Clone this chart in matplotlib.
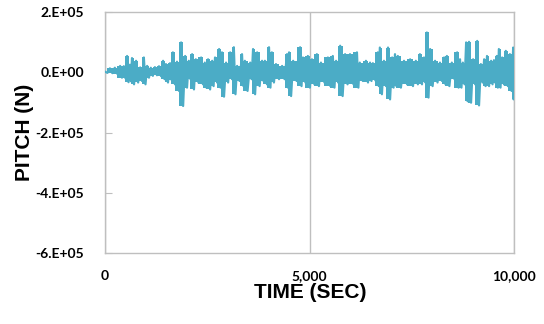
import numpy as np
import matplotlib
matplotlib.use("Agg")
import matplotlib.pyplot as plt

# Oscillation envelope of the pitch force record: time (s), upper peak and lower peak (N)
time_s = [0, 120, 240, 370, 460, 540, 610, 660, 760, 860, 950, 1030, 1120, 1220, 1320,
          1420, 1490, 1590, 1660, 1760, 1860, 1960, 2050, 2130, 2220, 2350, 2440, 2520,
          2620, 2690, 2790, 2860, 2960, 3060, 3150, 3230, 3350, 3420, 3550, 3620, 3720,
          3840, 3910, 4010, 4080, 4180, 4330, 4450, 4500, 4600, 4770, 4840, 4960, 5060,
          5180, 5280, 5450, 5570, 5650, 5750, 5870, 5990, 6160, 6230, 6380, 6480, 6550,
          6670, 6720, 6820, 6920, 7020, 7090, 7160, 7310, 7460, 7600, 7700, 7800, 7870,
          7950, 8070, 8190, 8290, 8360, 8480, 8610, 8680, 8750, 8830, 8900, 9000, 9100,
          9190, 9270, 9340, 9440, 9510, 9580, 9630, 9710, 9800, 9900, 9980, 10000]
upper_n = [0.02, 0.13, 0.15, 0.21, 0.20, 0.54, 0.25, 0.47, 0.38, 0.16, 0.49, 0.21, 0.15,
           0.17, 0.20, 0.38, 0.27, 0.30, 0.66, 0.35, 0.99, 0.54, 0.38, 0.60, 0.43, 0.49,
           0.32, 0.43, 0.38, 0.49, 0.77, 0.66, 0.32, 0.66, 0.83, 0.21, 0.60, 0.38, 0.32,
           0.77, 0.66, 0.38, 0.38, 0.83, 0.66, 0.27, 0.21, 0.60, 0.66, 0.38, 0.83, 0.49,
           0.54, 0.43, 0.60, 0.32, 0.49, 0.54, 0.38, 0.88, 0.60, 0.60, 0.66, 0.32, 0.38,
           0.32, 0.30, 0.66, 0.82, 0.38, 0.82, 0.49, 0.60, 0.54, 0.38, 0.43, 0.38, 0.60,
           0.49, 1.32, 0.77, 0.38, 0.32, 0.49, 0.54, 0.32, 0.66, 0.43, 0.32, 0.99, 1.01,
           0.43, 1.04, 0.27, 0.43, 0.54, 0.38, 0.40, 0.54, 0.77, 0.49, 0.71, 0.60, 0.82,
           0.20]
lower_n = [-0.02, -0.03, -0.06, -0.18, -0.20, -0.33, -0.30, -0.40, -0.34, -0.29, -0.40,
           -0.18, -0.12, -0.10, -0.13, -0.23, -0.34, -0.25, -0.40, -0.62, -1.12, -0.51,
           -0.23, -0.57, -0.34, -0.40, -0.51, -0.57, -0.46, -0.34, -0.51, -0.81, -0.34,
           -0.23, -0.73, -0.29, -0.46, -0.62, -0.23, -0.73, -0.46, -0.29, -0.40, -0.51,
           -0.34, -0.23, -0.23, -0.51, -0.79, -0.29, -0.46, -0.34, -0.51, -0.40, -0.46,
           -0.34, -0.46, -0.51, -0.34, -0.79, -0.40, -0.40, -0.51, -0.29, -0.34, -0.29,
           -0.27, -0.46, -0.73, -0.46, -0.90, -0.51, -0.46, -0.51, -0.40, -0.46, -0.40,
           -0.40, -0.34, -0.84, -0.46, -0.34, -0.29, -0.40, -0.46, -0.23, -0.51, -0.51,
           -0.40, -0.96, -1.01, -0.40, -1.10, -0.34, -0.46, -0.46, -0.40, -0.35, -0.51,
           -0.51, -0.40, -0.46, -0.62, -0.90, -0.20]
scale_n = 1e5

x_ticks = [0, 5000, 10000]
x_tick_labels = ["0", "5,000", "10,000"]
y_ticks = [-6e5, -4e5, -2e5, 0, 2e5]
y_tick_labels = ["-6.E+05", "-4.E+05", "-2.E+05", "0.E+00", "2.E+05"]

line_color = "#4BACC6"

t_arr = np.array(time_s, dtype=float)
up = np.array(upper_n) * scale_n
lo = np.array(lower_n) * scale_n

# Swing the trace across each peak pair: upper peak, then lower peak half a step later
seg = np.diff(t_arr, append=t_arr[-1])
t_trace = np.empty(2 * len(t_arr))
v_trace = np.empty(2 * len(t_arr))
t_trace[0::2] = t_arr
t_trace[1::2] = t_arr + seg / 2
v_trace[0::2] = up
v_trace[1::2] = lo

fig = plt.figure(figsize=(5.44, 3.24), dpi=100)
ax = fig.add_axes([105 / 544, 1 - 253 / 324, 409 / 544, 241 / 324])

# Dense oscillation band: one column per peak pair, with the swinging trace over it
ax.fill_between(t_arr, lo, up, step="mid", color=line_color, lw=0, zorder=3)
ax.plot(t_trace, v_trace, color=line_color, lw=1.6, zorder=3)

ax.set_xlim(0, 10000)
ax.set_ylim(-6e5, 2e5)
ax.set_xticks(x_ticks)
ax.set_xticklabels(x_tick_labels)
ax.set_yticks(y_ticks)
ax.set_yticklabels(y_tick_labels)

for lab in ax.get_xticklabels() + ax.get_yticklabels():
    lab.set_fontfamily("Lato")
    lab.set_fontweight("bold")
    lab.set_fontsize(10)

ax.tick_params(axis="x", length=0, pad=12)
ax.tick_params(axis="y", direction="in", length=5, color="#BFBFBF", pad=15)

ax.grid(axis="x", color="#BFBFBF", lw=1.0)
ax.set_axisbelow(True)
for s in ax.spines.values():
    s.set_color("#BFBFBF")
    s.set_linewidth(1.0)

ax.set_xlabel("TIME (SEC)", family="Liberation Sans", weight="bold", fontsize=15)
ax.xaxis.set_label_coords((310 - 105) / 409, (253 - 292) / 241)
ax.xaxis.label.set_va("center")
ax.set_ylabel("PITCH (N)", family="Liberation Sans", weight="bold", fontsize=15)
ax.yaxis.set_label_coords((25 - 105) / 409, 0.5)
ax.yaxis.label.set_va("center")

fig.savefig("out.png", dpi=100)
